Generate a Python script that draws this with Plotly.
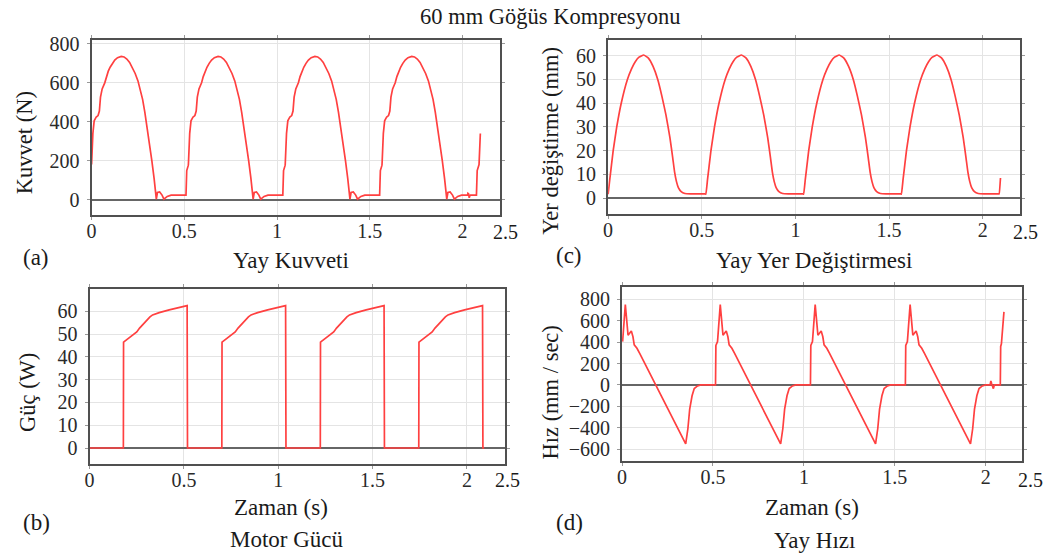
import plotly.graph_objects as go

# ---------------- data ----------------
# cycle start times (s) of the four full compression cycles
cycle_starts = [0.0, 0.522, 1.044, 1.566]

# (a) spring force, one cycle (time offset in s, force in N)
force_cycle_t = [-0.013, -0.009, -0.001, 0.000, 0.007, 0.014, 0.025, 0.035, 0.042, 0.048,
                 0.057, 0.071, 0.080, 0.090, 0.100, 0.112, 0.125, 0.140, 0.160, 0.175,
                 0.190, 0.205, 0.220, 0.235, 0.250, 0.262, 0.275, 0.287, 0.300, 0.312,
                 0.325, 0.337, 0.346, 0.349, 0.355, 0.367, 0.380, 0.390, 0.408, 0.429,
                 0.509]
force_cycle_v = [24, 150, 175, 181, 341, 405, 425, 432, 455, 527,
                 569, 600, 632, 660, 680, 700, 717, 729, 736, 733,
                 722, 705, 680, 648, 610, 570, 515, 450, 370, 290,
                 200, 110, 37, 3, 37, 40, 24, 3, 17, 24,
                 24]
force_extra_t = [2.027, 2.029, 2.033, 2.036, 2.040, 2.043]
force_extra_v = [24, 33, 30, 10, 22, 24]
force_tail_t = [2.075, 2.079, 2.087, 2.089, 2.096]
force_tail_v = [24, 150, 175, 181, 340]

# (b) motor power, one cycle (W)
power_cycle_t = [0.000, 0.179, 0.180, 0.195, 0.210, 0.230, 0.250, 0.265, 0.285, 0.300,
                 0.320, 0.334, 0.350, 0.369, 0.422, 0.474, 0.517, 0.519]
power_cycle_v = [0, 0, 46.5, 47.4, 48.2, 49.4, 51.0, 52.7, 54.6, 56.1,
                 57.6, 58.5, 59.0, 59.5, 60.7, 61.8, 62.6, 0]
power_tail_t = [2.088, 2.092]
power_tail_v = [0, 0]

# (c) spring displacement, one cycle (mm)
disp_cycle_t = [0.000, 0.009, 0.018, 0.027, 0.046, 0.070, 0.103, 0.125, 0.145, 0.165,
                0.190, 0.215, 0.240, 0.265, 0.287, 0.309, 0.330, 0.345, 0.355, 0.365,
                0.375, 0.390, 0.410, 0.440, 0.520]
disp_cycle_v = [1.7, 8.0, 14.0, 20.0, 30.0, 40.0, 50.0, 54.5, 57.5, 59.4,
                60.3, 59.0, 55.5, 50.0, 43.0, 35.0, 25.5, 17.0, 11.0, 7.0,
                4.5, 2.8, 2.0, 1.8, 1.8]
disp_tail_t = [2.088, 2.095]
disp_tail_v = [1.8, 8.5]

# (d) spring velocity, one cycle (mm/s)
vel_cycle_t = [-0.008, -0.006, 0.003, 0.018, 0.033, 0.042, 0.051, 0.060, 0.067, 0.082,
               0.097, 0.185, 0.250, 0.300, 0.350, 0.362, 0.372, 0.385, 0.397, 0.415,
               0.433, 0.514]
vel_cycle_v = [0, 370, 405, 750, 465, 482, 505, 450, 375, 343,
               296, 0, -215, -385, -550, -409, -225, -101, -34, -9,
               0, 0]
vel_extra_t = [2.024, 2.028, 2.033, 2.042, 2.047]
vel_extra_v = [0, 37, 10, -34, 0]
vel_tail_t = [2.080, 2.082, 2.086, 2.100]
vel_tail_v = [0, 360, 385, 683]

x_ticks = [0, 0.5, 1, 1.5, 2]
x_ticktext = ["0", "0.5", "1", "1.5", "2"]
force_ticks = [0, 200, 400, 600, 800]
power_ticks = [0, 10, 20, 30, 40, 50, 60]
disp_ticks = [0, 10, 20, 30, 40, 50, 60]
vel_ticks = [-600, -400, -200, 0, 200, 400, 600, 800]


def build(ct, cv, extra_t, extra_v, tail_t, tail_v):
    pts = []
    for s in cycle_starts:
        for a, b in zip(ct, cv):
            if s + a >= 0:
                pts.append((round(s + a, 4), b))
    pts += list(zip(extra_t, extra_v))
    pts += list(zip(tail_t, tail_v))
    pts.sort(key=lambda p: p[0])
    return [p[0] for p in pts], [p[1] for p in pts]


fx, fy = build(force_cycle_t, force_cycle_v, force_extra_t, force_extra_v, force_tail_t, force_tail_v)
px_, py_ = build(power_cycle_t, power_cycle_v, [], [], power_tail_t, power_tail_v)
dx, dy = build(disp_cycle_t, disp_cycle_v, [], [], disp_tail_t, disp_tail_v)
vx, vy = build(vel_cycle_t, vel_cycle_v, vel_extra_t, vel_extra_v, vel_tail_t, vel_tail_v)

# ---------------- figure ----------------
W, H = 1051, 556
RED = "#ff4040"
SERIF = "Liberation Serif, Times New Roman, Times, serif"
TXT = "#1a1a1a"

fig = go.Figure()
plain = dict(color=RED, width=1.7)
smooth = dict(color=RED, width=1.7, shape="spline", smoothing=0.4)
fig.add_trace(go.Scatter(x=fx, y=fy, mode="lines", line=plain, xaxis="x", yaxis="y", showlegend=False))
fig.add_trace(go.Scatter(x=px_, y=py_, mode="lines", line=plain, xaxis="x2", yaxis="y2", showlegend=False))
fig.add_trace(go.Scatter(x=dx, y=dy, mode="lines", line=smooth, xaxis="x3", yaxis="y3", showlegend=False))
fig.add_trace(go.Scatter(x=vx, y=vy, mode="lines", line=plain, xaxis="x4", yaxis="y4", showlegend=False))


def xdom(l, r):
    return [l / W, r / W]


def ydom(t, b):
    return [1 - b / H, 1 - t / H]


tickfont = dict(family=SERIF, size=20, color="#2a2a2a")
common = dict(showline=True, linecolor="#505050", linewidth=2, mirror="ticks",
              ticks="outside", ticklen=3, tickwidth=1, tickcolor="#999999",
              showgrid=True, gridcolor="#e4e4e4", gridwidth=1, tickfont=tickfont)


def xax(dom, anchor):
    return dict(domain=dom, anchor=anchor, range=[0, 2.2], tickvals=x_ticks, ticktext=x_ticktext,
                zeroline=False, ticklabelstandoff=-6, **common)


def yax(dom, anchor, rng, ticks):
    return dict(domain=dom, anchor=anchor, range=rng, tickvals=ticks, zeroline=True,
                zerolinecolor="#666666", zerolinewidth=1.5, ticklabelstandoff=3, **common)


fig.update_layout(
    width=W, height=H, paper_bgcolor="white", plot_bgcolor="white",
    margin=dict(l=0, r=0, t=0, b=0),
    xaxis=xax(xdom(87, 497), "y"),
    yaxis=yax(ydom(33, 211), "x", [-80, 822], force_ticks),
    xaxis2=xax(xdom(85, 502), "y2"),
    yaxis2=yax(ydom(286, 463), "x2", [-7.1, 69.7], power_ticks),
    xaxis3=xax(xdom(606, 1020), "y3"),
    yaxis3=yax(ydom(33, 210), "x3", [-6.8, 66.8], disp_ticks),
    xaxis4=xax(xdom(620, 1022), "y4"),
    yaxis4=yax(ydom(284, 460), "x4", [-712, 911], vel_ticks),
)


def ann(text, x, y, size=23, angle=0):
    fig.add_annotation(text=text, x=x / W, y=1 - y / H, xref="paper", yref="paper",
                       xanchor="center", yanchor="middle", showarrow=False, textangle=angle,
                       font=dict(family=SERIF, size=size, color=TXT))


ann("60 mm Göğüs Kompresyonu", 548, 10, 22.5)
ann("Kuvvet (N)", 19, 137, 22.5, -90)
ann("Güç (W)", 22, 390, 22.5, -90)
ann("Yer değiştirme (mm)", 548, 135, 22.5, -90)
ann("Hız (mm / sec)", 548, 390, 22.5, -90)
ann("(a)", 31, 254)
ann("Yay Kuvveti", 287, 257)
ann("(c)", 567, 252)
ann("Yay Yer Değiştirmesi", 813, 257)
ann("(b)", 32, 522)
ann("Zaman (s)", 277, 507)
ann("Motor Gücü", 283, 539)
ann("(d)", 567, 522)
ann("Zaman (s)", 811, 507)
ann("Yay Hızı", 813, 540)
for xx, yy in [(503, 228), (505, 479), (1025, 228), (1030, 479)]:
    ann("2.5", xx, yy, 20)

fig.write_html("out.html")
